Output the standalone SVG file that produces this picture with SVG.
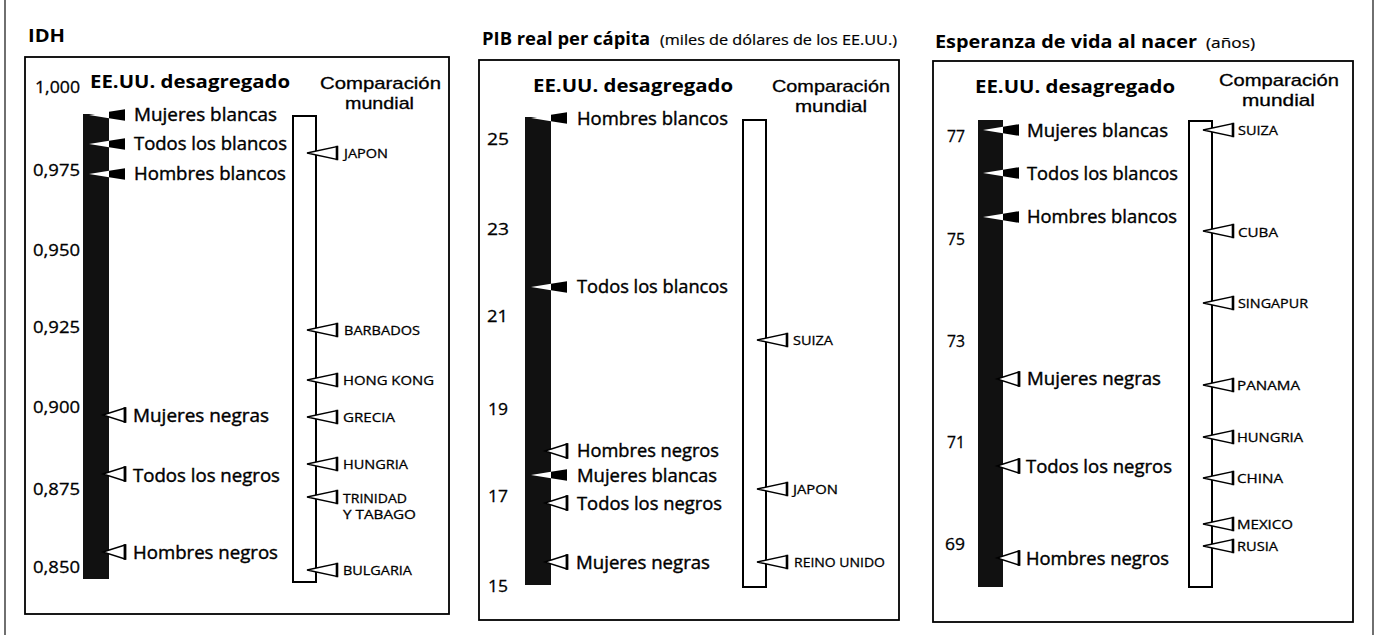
<svg xmlns="http://www.w3.org/2000/svg" width="1380" height="635" viewBox="0 0 1380 635">
<style>
text{font-family:"Open Sans","Liberation Sans",sans-serif;fill:#000}
.ttl{font-size:17.5px;font-weight:bold}
.sub{font-size:14px;stroke:#000;stroke-width:0.2}
.hdr{font-size:17.5px;font-weight:bold}
.cmp{font-family:"Liberation Sans",Arial,sans-serif;font-size:17px;stroke:#000;stroke-width:0.3}
.ax{font-size:17px;stroke:#000;stroke-width:0.3}
.lbl{font-size:17.5px;stroke:#000;stroke-width:0.4}
.cty{font-size:13.5px;stroke:#000;stroke-width:0.3}
.box{fill:#fff;stroke:#000;stroke-width:1.8}
.bar{fill:#111}
.wbar{fill:#fff;stroke:#000;stroke-width:2}
.edge{stroke:#222;stroke-width:1.3}
</style>
<defs>
<g id="pb"><polygon points="-20,0 0,-3.2 0,3.2" fill="#fff"/><polygon points="0,-3.2 16,-5.8 16,5.8 0,3.2" fill="#000"/></g>
<g id="po"><polygon points="-6,0 16,-7 16,7" fill="#fff" stroke="#000" stroke-width="1.4"/><line x1="16" y1="-7.8" x2="16" y2="7.8" stroke="#000" stroke-width="2.8"/></g>
<g id="pc"><polygon points="-9,0 21,-6.5 21,6.5" fill="#fff" stroke="#000" stroke-width="1.4"/><line x1="21" y1="-7.2" x2="21" y2="7.2" stroke="#000" stroke-width="2.6"/></g>
</defs>
<rect width="1380" height="635" fill="#fff"/>
<line class="edge" x1="5" y1="0" x2="5" y2="635"/>
<line class="edge" x1="1373" y1="0" x2="1373" y2="635"/>

<g id="panel-idh">
<text class="ttl" x="28" y="42" textLength="37" lengthAdjust="spacingAndGlyphs">IDH</text>
<rect class="box" x="25" y="57" width="424" height="557"/>
<text class="hdr" x="90" y="88" textLength="200" lengthAdjust="spacingAndGlyphs">EE.UU. desagregado</text>
<text class="cmp" x="320" y="89" textLength="121" lengthAdjust="spacingAndGlyphs">Comparación</text>
<text class="cmp" x="345" y="109" textLength="69" lengthAdjust="spacingAndGlyphs">mundial</text>
<rect class="bar" x="83" y="114" width="26" height="465"/>
<rect class="wbar" x="293" y="116" width="23" height="466"/>
<text class="ax" x="35" y="93" textLength="45" lengthAdjust="spacingAndGlyphs">1,000</text>
<text class="ax" x="33" y="176" textLength="47" lengthAdjust="spacingAndGlyphs">0,975</text>
<text class="ax" x="33" y="256" textLength="47" lengthAdjust="spacingAndGlyphs">0,950</text>
<text class="ax" x="33" y="333" textLength="47" lengthAdjust="spacingAndGlyphs">0,925</text>
<text class="ax" x="33" y="413" textLength="47" lengthAdjust="spacingAndGlyphs">0,900</text>
<text class="ax" x="33" y="495" textLength="47" lengthAdjust="spacingAndGlyphs">0,875</text>
<text class="ax" x="33" y="573" textLength="47" lengthAdjust="spacingAndGlyphs">0,850</text>
</g>

<g id="panel-pib">
<text class="ttl" x="482" y="45" textLength="168" lengthAdjust="spacingAndGlyphs">PIB real per cápita</text>
<text class="sub" x="660" y="45" textLength="237" lengthAdjust="spacingAndGlyphs">(miles de dólares de los EE.UU.)</text>
<rect class="box" x="479" y="60" width="420" height="560"/>
<text class="hdr" x="533" y="92" textLength="200" lengthAdjust="spacingAndGlyphs">EE.UU. desagregado</text>
<text class="cmp" x="772" y="92" textLength="118" lengthAdjust="spacingAndGlyphs">Comparación</text>
<text class="cmp" x="795" y="112" textLength="72" lengthAdjust="spacingAndGlyphs">mundial</text>
<rect class="bar" x="525" y="117" width="26" height="468"/>
<rect class="wbar" x="743" y="120" width="23" height="467"/>
<text class="ax" x="487" y="145" textLength="22" lengthAdjust="spacingAndGlyphs">25</text>
<text class="ax" x="487" y="235" textLength="22" lengthAdjust="spacingAndGlyphs">23</text>
<text class="ax" x="487" y="322" textLength="21" lengthAdjust="spacingAndGlyphs">21</text>
<text class="ax" x="488" y="415" textLength="20" lengthAdjust="spacingAndGlyphs">19</text>
<text class="ax" x="488" y="502" textLength="20" lengthAdjust="spacingAndGlyphs">17</text>
<text class="ax" x="488" y="592" textLength="20" lengthAdjust="spacingAndGlyphs">15</text>
</g>

<g id="panel-vida">
<text class="ttl" x="935" y="48" textLength="262" lengthAdjust="spacingAndGlyphs">Esperanza de vida al nacer</text>
<text class="sub" x="1206" y="48" textLength="49" lengthAdjust="spacingAndGlyphs">(años)</text>
<rect class="box" x="933" y="61" width="420" height="561"/>
<text class="hdr" x="975" y="93" textLength="200" lengthAdjust="spacingAndGlyphs">EE.UU. desagregado</text>
<text class="cmp" x="1219" y="86" textLength="120" lengthAdjust="spacingAndGlyphs">Comparación</text>
<text class="cmp" x="1242" y="106" textLength="73" lengthAdjust="spacingAndGlyphs">mundial</text>
<rect class="bar" x="978" y="120" width="25" height="467"/>
<rect class="wbar" x="1189" y="121" width="23" height="466"/>
<text class="ax" x="947" y="142" textLength="18" lengthAdjust="spacingAndGlyphs">77</text>
<text class="ax" x="947" y="245" textLength="18" lengthAdjust="spacingAndGlyphs">75</text>
<text class="ax" x="947" y="347" textLength="18" lengthAdjust="spacingAndGlyphs">73</text>
<text class="ax" x="947" y="448" textLength="18" lengthAdjust="spacingAndGlyphs">71</text>
<text class="ax" x="945" y="550" textLength="20" lengthAdjust="spacingAndGlyphs">69</text>
</g>

<g id="connectors">
<use href="#pb" x="109" y="115"/>
<use href="#pb" x="109" y="144"/>
<use href="#pb" x="109" y="174"/>
<use href="#po" x="109" y="415"/>
<use href="#po" x="109" y="474"/>
<use href="#po" x="109" y="552"/>
<use href="#pc" x="316" y="153"/>
<use href="#pc" x="316" y="330"/>
<use href="#pc" x="316" y="380"/>
<use href="#pc" x="316" y="417"/>
<use href="#pc" x="316" y="464"/>
<use href="#pc" x="316" y="497"/>
<use href="#pc" x="316" y="570"/>

<use href="#pb" x="551" y="118"/>
<use href="#pb" x="551" y="287"/>
<use href="#pb" x="551" y="475"/>
<use href="#po" x="551" y="451"/>
<use href="#po" x="551" y="503"/>
<use href="#po" x="551" y="562"/>
<use href="#pc" x="766" y="340"/>
<use href="#pc" x="766" y="489"/>
<use href="#pc" x="766" y="562"/>

<use href="#pb" x="1003" y="130"/>
<use href="#pb" x="1003" y="173"/>
<use href="#pb" x="1003" y="217"/>
<use href="#po" x="1003" y="379"/>
<use href="#po" x="1003" y="466"/>
<use href="#po" x="1003" y="558"/>
<use href="#pc" x="1212" y="130"/>
<use href="#pc" x="1212" y="231"/>
<use href="#pc" x="1212" y="303"/>
<use href="#pc" x="1212" y="385"/>
<use href="#pc" x="1212" y="437"/>
<use href="#pc" x="1212" y="478"/>
<use href="#pc" x="1212" y="524"/>
<use href="#pc" x="1212" y="546"/>
</g>

<g id="idh-mujeres-blancas"><text class="lbl" x="134" y="121" textLength="143" lengthAdjust="spacingAndGlyphs">Mujeres blancas</text></g>
<g id="idh-todos-blancos"><text class="lbl" x="134" y="150" textLength="153" lengthAdjust="spacingAndGlyphs">Todos los blancos</text></g>
<g id="idh-hombres-blancos"><text class="lbl" x="134" y="180" textLength="152" lengthAdjust="spacingAndGlyphs">Hombres blancos</text></g>
<g id="idh-mujeres-negras"><text class="lbl" x="133" y="422" textLength="136" lengthAdjust="spacingAndGlyphs">Mujeres negras</text></g>
<g id="idh-todos-negros"><text class="lbl" x="133" y="482" textLength="147" lengthAdjust="spacingAndGlyphs">Todos los negros</text></g>
<g id="idh-hombres-negros"><text class="lbl" x="133" y="559" textLength="145" lengthAdjust="spacingAndGlyphs">Hombres negros</text></g>
<g id="idh-japon"><text class="cty" x="344" y="158" textLength="44" lengthAdjust="spacingAndGlyphs">JAPON</text></g>
<g id="idh-barbados"><text class="cty" x="344" y="335" textLength="76" lengthAdjust="spacingAndGlyphs">BARBADOS</text></g>
<g id="idh-hongkong"><text class="cty" x="343" y="385" textLength="91" lengthAdjust="spacingAndGlyphs">HONG KONG</text></g>
<g id="idh-grecia"><text class="cty" x="343" y="422" textLength="52" lengthAdjust="spacingAndGlyphs">GRECIA</text></g>
<g id="idh-hungria"><text class="cty" x="343" y="469" textLength="65" lengthAdjust="spacingAndGlyphs">HUNGRIA</text></g>
<g id="idh-trinidad"><text class="cty"><tspan x="343" y="503" textLength="64" lengthAdjust="spacingAndGlyphs">TRINIDAD</tspan><tspan x="343" y="519" textLength="73" lengthAdjust="spacingAndGlyphs">Y TABAGO</tspan></text></g>
<g id="idh-bulgaria"><text class="cty" x="343" y="575" textLength="69" lengthAdjust="spacingAndGlyphs">BULGARIA</text></g>

<g id="pib-hombres-blancos"><text class="lbl" x="577" y="125" textLength="151" lengthAdjust="spacingAndGlyphs">Hombres blancos</text></g>
<g id="pib-todos-blancos"><text class="lbl" x="577" y="293" textLength="151" lengthAdjust="spacingAndGlyphs">Todos los blancos</text></g>
<g id="pib-hombres-negros"><text class="lbl" x="577" y="457" textLength="142" lengthAdjust="spacingAndGlyphs">Hombres negros</text></g>
<g id="pib-mujeres-blancas"><text class="lbl" x="577" y="482" textLength="140" lengthAdjust="spacingAndGlyphs">Mujeres blancas</text></g>
<g id="pib-todos-negros"><text class="lbl" x="577" y="510" textLength="145" lengthAdjust="spacingAndGlyphs">Todos los negros</text></g>
<g id="pib-mujeres-negras"><text class="lbl" x="576" y="569" textLength="134" lengthAdjust="spacingAndGlyphs">Mujeres negras</text></g>
<g id="pib-suiza"><text class="cty" x="793" y="345" textLength="40" lengthAdjust="spacingAndGlyphs">SUIZA</text></g>
<g id="pib-japon"><text class="cty" x="793" y="494" textLength="45" lengthAdjust="spacingAndGlyphs">JAPON</text></g>
<g id="pib-reino-unido"><text class="cty" x="794" y="567" textLength="91" lengthAdjust="spacingAndGlyphs">REINO UNIDO</text></g>

<g id="vida-mujeres-blancas"><text class="lbl" x="1027" y="137" textLength="141" lengthAdjust="spacingAndGlyphs">Mujeres blancas</text></g>
<g id="vida-todos-blancos"><text class="lbl" x="1027" y="180" textLength="151" lengthAdjust="spacingAndGlyphs">Todos los blancos</text></g>
<g id="vida-hombres-blancos"><text class="lbl" x="1027" y="223" textLength="150" lengthAdjust="spacingAndGlyphs">Hombres blancos</text></g>
<g id="vida-mujeres-negras"><text class="lbl" x="1027" y="385" textLength="134" lengthAdjust="spacingAndGlyphs">Mujeres negras</text></g>
<g id="vida-todos-negros"><text class="lbl" x="1026" y="473" textLength="146" lengthAdjust="spacingAndGlyphs">Todos los negros</text></g>
<g id="vida-hombres-negros"><text class="lbl" x="1026" y="565" textLength="143" lengthAdjust="spacingAndGlyphs">Hombres negros</text></g>
<g id="vida-suiza"><text class="cty" x="1238" y="135" textLength="40" lengthAdjust="spacingAndGlyphs">SUIZA</text></g>
<g id="vida-cuba"><text class="cty" x="1238" y="237" textLength="40" lengthAdjust="spacingAndGlyphs">CUBA</text></g>
<g id="vida-singapur"><text class="cty" x="1238" y="308" textLength="70" lengthAdjust="spacingAndGlyphs">SINGAPUR</text></g>
<g id="vida-panama"><text class="cty" x="1237" y="390" textLength="63" lengthAdjust="spacingAndGlyphs">PANAMA</text></g>
<g id="vida-hungria"><text class="cty" x="1237" y="442" textLength="66" lengthAdjust="spacingAndGlyphs">HUNGRIA</text></g>
<g id="vida-china"><text class="cty" x="1237" y="483" textLength="46" lengthAdjust="spacingAndGlyphs">CHINA</text></g>
<g id="vida-mexico"><text class="cty" x="1237" y="529" textLength="56" lengthAdjust="spacingAndGlyphs">MEXICO</text></g>
<g id="vida-rusia"><text class="cty" x="1237" y="551" textLength="41" lengthAdjust="spacingAndGlyphs">RUSIA</text></g>
</svg>
